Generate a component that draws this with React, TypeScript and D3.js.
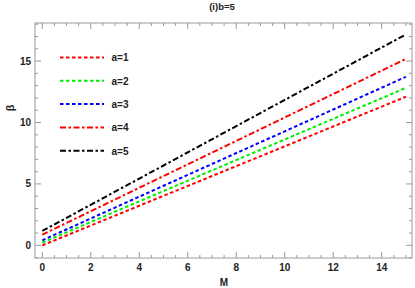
import React from "react";
import * as d3 from "d3";

// values at M = 0, 5, 10, 15
const mValues = [0, 5, 10, 15];
const seriesNames = ["a=1", "a=2", "a=3", "a=4", "a=5"];
const seriesColors = ["#ff0000", "#00ee00", "#0000ff", "#ff0000", "#000000"];
const seriesDash = ["3.5,2.5", "3.5,2.5", "3.5,2.5", "6,2.5,2.5,2.5", "6,2.5,2.5,2.5"];
const a1 = [0, 4.03, 8.06, 12.1];
const a2 = [0.22, 4.42, 8.62, 12.82];
const a3 = [0.41, 4.85, 9.28, 13.72];
const a4 = [0.87, 5.64, 10.41, 15.18];
const a5 = [1.17, 6.5, 11.84, 17.17];
const allSeries = [a1, a2, a3, a4, a5];
const xTicks = [0, 2, 4, 6, 8, 10, 12, 14];
const yTicks = [0, 5, 10, 15];

const W = 415;
const H = 288;
const margin = { left: 35, top: 23, right: 3, bottom: 30 };

const App = () => {
  const x = d3.scaleLinear().domain([-0.3, 15.25]).range([margin.left, W - margin.right]);
  const y = d3.scaleLinear().domain([-1.03, 18.1]).range([H - margin.bottom, margin.top]);

  const line = d3
    .line<number>()
    .x((_, i) => x(mValues[i]))
    .y((d) => y(d));

  const xMinor = d3.range(0, 15.01, 0.5).filter((v) => !xTicks.includes(v));
  const yMinor = d3.range(-1, 18.01, 1).filter((v) => !yTicks.includes(v));

  const font = "'Liberation Sans', Arial, sans-serif";
  const frame = "#9a9a9a";
  const txt = "#222";
  const x0 = margin.left;
  const x1 = W - margin.right;
  const y0 = margin.top;
  const y1 = H - margin.bottom;

  return (
    <svg width={W} height={H} style={{ position: "absolute", left: 0, top: 0, background: "#fff" }}>
      <rect x={0} y={0} width={W} height={H} fill="#fff" />
      {/* plot lines */}
      {allSeries.map((s, i) => (
        <path
          key={i}
          d={line(s) || ""}
          fill="none"
          stroke={seriesColors[i]}
          strokeWidth={2}
          strokeDasharray={seriesDash[i]}
        />
      ))}

      {/* frame */}
      <rect x={x0} y={y0} width={x1 - x0} height={y1 - y0} fill="none" stroke={frame} strokeWidth={1} />

      {/* x ticks, bottom and top */}
      {xTicks.map((t) => (
        <g key={"xt" + t}>
          <line x1={x(t)} x2={x(t)} y1={y1} y2={y1 - 6} stroke={frame} />
          <line x1={x(t)} x2={x(t)} y1={y0} y2={y0 + 6} stroke={frame} />
          <text x={x(t)} y={y1 + 12.5} textAnchor="middle" fontFamily={font} fontWeight="bold" fontSize={10} fill={txt}>
            {t}
          </text>
        </g>
      ))}
      {xMinor.map((t) => (
        <g key={"xm" + t}>
          <line x1={x(t)} x2={x(t)} y1={y1} y2={y1 - 3} stroke={frame} />
          <line x1={x(t)} x2={x(t)} y1={y0} y2={y0 + 3} stroke={frame} />
        </g>
      ))}

      {/* y ticks, left and right */}
      {yTicks.map((t) => (
        <g key={"yt" + t}>
          <line x1={x0} x2={x0 + 6} y1={y(t)} y2={y(t)} stroke={frame} />
          <line x1={x1} x2={x1 - 6} y1={y(t)} y2={y(t)} stroke={frame} />
          <text x={x0 - 4} y={y(t) + 3.5} textAnchor="end" fontFamily={font} fontWeight="bold" fontSize={10} fill={txt}>
            {t}
          </text>
        </g>
      ))}
      {yMinor.map((t) => (
        <g key={"ym" + t}>
          <line x1={x0} x2={x0 + 3} y1={y(t)} y2={y(t)} stroke={frame} />
          <line x1={x1} x2={x1 - 3} y1={y(t)} y2={y(t)} stroke={frame} />
        </g>
      ))}

      {/* title and axis labels */}
      <text x={222} y={9.5} textAnchor="middle" fontFamily={font} fontWeight="bold" fontSize={9.5} fill={txt}>
        (i)b=5
      </text>
      <text x={224} y={286} textAnchor="middle" fontFamily={font} fontWeight="bold" fontSize={10} fill={txt}>
        M
      </text>
      <text
        x={14}
        y={108}
        textAnchor="middle"
        fontFamily={font}
        fontWeight="bold"
        fontSize={11}
        fill={txt}
        transform="rotate(-90, 14, 108)"
      >
        β
      </text>

      {/* legend */}
      {seriesNames.map((n, i) => {
        const ly = 57.5 + i * 23.3;
        return (
          <g key={n}>
            <line
              x1={60}
              x2={104}
              y1={ly}
              y2={ly}
              stroke={seriesColors[i]}
              strokeWidth={2}
              strokeDasharray={seriesDash[i]}
            />
            <text x={111.5} y={ly + 3.8} fontFamily={font} fontWeight="bold" fontSize={10} fill={txt}>
              {n}
            </text>
          </g>
        );
      })}
    </svg>
  );
};

export default App;
